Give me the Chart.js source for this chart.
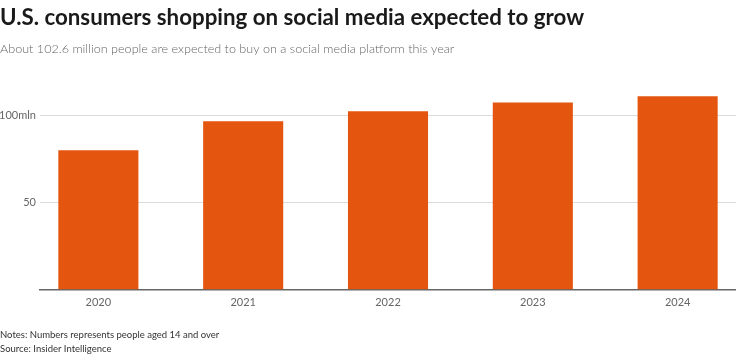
<!DOCTYPE html>
<html>
<head>
<meta charset="utf-8">
<script src="https://cdn.jsdelivr.net/npm/chart.js@4"></script>
<style>
  html, body { margin: 0; padding: 0; background: #fff; }
  #wrap { width: 736px; height: 357px; position: relative; }
</style>
</head>
<body>
<div id="wrap"><canvas id="c" width="736" height="357"></canvas></div>
<script>
const titleText = "U.S. consumers shopping on social media expected to grow";
const subtitleText = "About 102.6 million people are expected to buy on a social media platform this year";
const categories = ["2020", "2021", "2022", "2023", "2024"];
const shoppers = [80.1, 96.8, 102.6, 107.6, 111.2];
const yTickValues = [0, 50, 100];
const yTickLabels = ["", "50", "100mln"];
const footerLines = ["Notes: Numbers represents people aged 14 and over", "Source: Insider Intelligence"];

const FONT = "Lato, 'Noto Sans', sans-serif";

const footerPlugin = {
  id: 'footerNotes',
  afterDraw(chart) {
    const ctx = chart.ctx;
    ctx.save();
    ctx.font = "9.5px " + FONT;
    ctx.fillStyle = "#333";
    ctx.textBaseline = "middle";
    ctx.textAlign = "left";
    const h = chart.height;
    footerLines.forEach((t, i) => {
      ctx.fillText(t, 0, h - 22 + i * 14);
    });
    ctx.restore();
  }
};

new Chart(document.getElementById('c'), {
  type: 'bar',
  data: {
    datasets: [{
      data: shoppers.map((v, i) => ({ x: i, y: v })),
      backgroundColor: '#e4560f',
      borderWidth: 0,
      barPercentage: 0.553,
      categoryPercentage: 1.0
    }]
  },
  plugins: [footerPlugin],
  options: {
    responsive: false,
    animation: false,
    layout: { padding: { left: 0, right: 0, top: 0, bottom: 42 } },
    plugins: {
      legend: { display: false },
      tooltip: { enabled: false },
      title: {
        display: true,
        text: titleText,
        align: 'start',
        color: '#1a1a1a',
        font: { family: FONT, size: 22.3, weight: 'bold' },
        padding: { top: 4, bottom: 8 }
      },
      subtitle: {
        display: true,
        text: subtitleText,
        align: 'start',
        color: '#666',
        font: { family: FONT, size: 12.6, weight: '300' },
        padding: { top: 3, bottom: 24 }
      }
    },
    scales: {
      x: {
        type: 'linear',
        offset: false,
        min: -0.403,
        max: 4.403,
        afterBuildTicks(scale) { scale.ticks = categories.map((c, i) => ({ value: i })); },
        ticks: {
          color: '#666',
          font: { family: FONT, size: 11 },
          padding: 6,
          maxRotation: 0,
          callback: (v) => categories[v]
        },
        grid: { display: false, drawTicks: false, offset: false },
        border: { display: true, color: '#666', width: 1.5 }
      },
      y: {
        min: 0,
        max: 120,
        afterBuildTicks(scale) { scale.ticks = yTickValues.map(v => ({ value: v })); },
        afterFit(scale) { scale.width = 40; },
        ticks: {
          color: '#666',
          font: { family: FONT, size: 11 },
          padding: 4,
          callback: (v) => yTickLabels[yTickValues.indexOf(v)]
        },
        grid: {
          drawTicks: false,
          color: (ctx) => ctx.tick && ctx.tick.value === 0 ? 'rgba(0,0,0,0)' : '#dcdcdc'
        },
        border: { display: false }
      }
    }
  }
});
</script>
</body>
</html>
